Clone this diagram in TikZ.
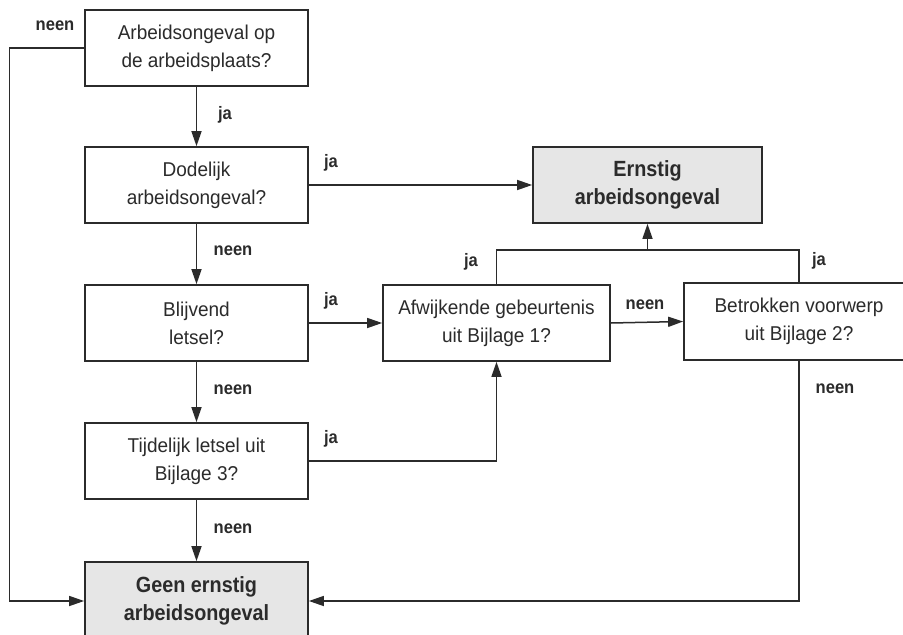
\documentclass[tikz,border=0pt]{standalone}
\usepackage{fontspec}
\setmainfont{Liberation Sans}
\newfontfamily\boxfont[FakeStretch=0.95]{Liberation Sans}
\newfontfamily\endfont[FakeStretch=0.9]{Liberation Sans}
\newfontfamily\lblfont[FakeStretch=0.92]{Liberation Sans}
\usetikzlibrary{arrows.meta}
\definecolor{ink}{HTML}{2B2B2B}
\definecolor{shade}{HTML}{E6E6E6}
\begin{document}
\begin{tikzpicture}[x=1pt,y=-1pt,
  box/.style={draw=ink, line width=1.7pt, minimum width=223pt, minimum height=76pt,
    align=center, inner sep=0pt, text=ink, font=\boxfont\fontsize{20}{28}\selectfont},
  endbox/.style={box, fill=shade, font=\endfont\bfseries\fontsize{22}{28}\selectfont},
  arr/.style={draw=ink, line width=1.5pt, -{Triangle[length=15pt,width=10pt]}},
  ln/.style={draw=ink, line width=1.5pt},
  lbl/.style={font=\lblfont\bfseries\fontsize{18}{20}\selectfont, text=ink, inner sep=0pt}]
\useasboundingbox (0,0) rectangle (903,635);
\fill[white] (0,0) rectangle (903,635);
% boxes
\node[box] (q1) at (196.5,48) {Arbeidsongeval op\\de arbeidsplaats?};
\node[box] (q2) at (196.5,185) {Dodelijk\\arbeidsongeval?};
\node[box] (q3) at (196.5,323) {Blijvend\\letsel?};
\node[box] (q4) at (196.5,461) {Tijdelijk letsel uit\\Bijlage 3?};
\node[endbox, minimum height=78pt] (geen) at (196.5,601) {Geen ernstig\\arbeidsongeval};
\node[endbox, minimum width=229pt] (ernst) at (647.5,185) {Ernstig\\arbeidsongeval};
\node[box, minimum width=227pt] (afw) at (496.5,323) {Afwijkende gebeurtenis\\uit Bijlage 1?};
\node[box, minimum width=230pt, minimum height=77pt] (bet) at (799,321.5) {Betrokken voorwerp\\uit Bijlage 2?};
% connectors
\draw[arr] (q1.south) -- (q2.north);
\draw[arr] (q1.west) -- ++(-74.5,0) |- (geen.west);
\draw[arr] (q2.east) -- (ernst.west);
\draw[arr] (q2.south) -- (q3.north);
\draw[arr] (q3.east) -- (afw.west);
\draw[arr] (q3.south) -- (q4.north);
\draw[arr] (q4.east) -| (afw.south);
\draw[arr] (q4.south) -- (geen.north);
\draw[arr] (afw.east) -- (bet.west);
\coordinate (j) at (647.5,250);
\draw[ln] (afw.north) |- (j) -| (bet.north);
\draw[arr] (j) -- (ernst.south);
\draw[arr] (bet.south) |- (geen.east);
% labels
\node[lbl] (l1) at (55,26) {neen};
\node[lbl] (l2) at (225,115) {ja};
\node[lbl] (l3) at (331,163) {ja};
\node[lbl] (l4) at (233,251) {neen};
\node[lbl] (l5) at (331,301) {ja};
\node[lbl] (l6) at (233,390) {neen};
\node[lbl] (l7) at (331,439) {ja};
\node[lbl] (l8) at (233,529) {neen};
\node[lbl] (l9) at (645,305) {neen};
\node[lbl] (l10) at (471,262) {ja};
\node[lbl] (l11) at (819,261) {ja};
\node[lbl] (l12) at (835,389) {neen};
\end{tikzpicture}
\end{document}
